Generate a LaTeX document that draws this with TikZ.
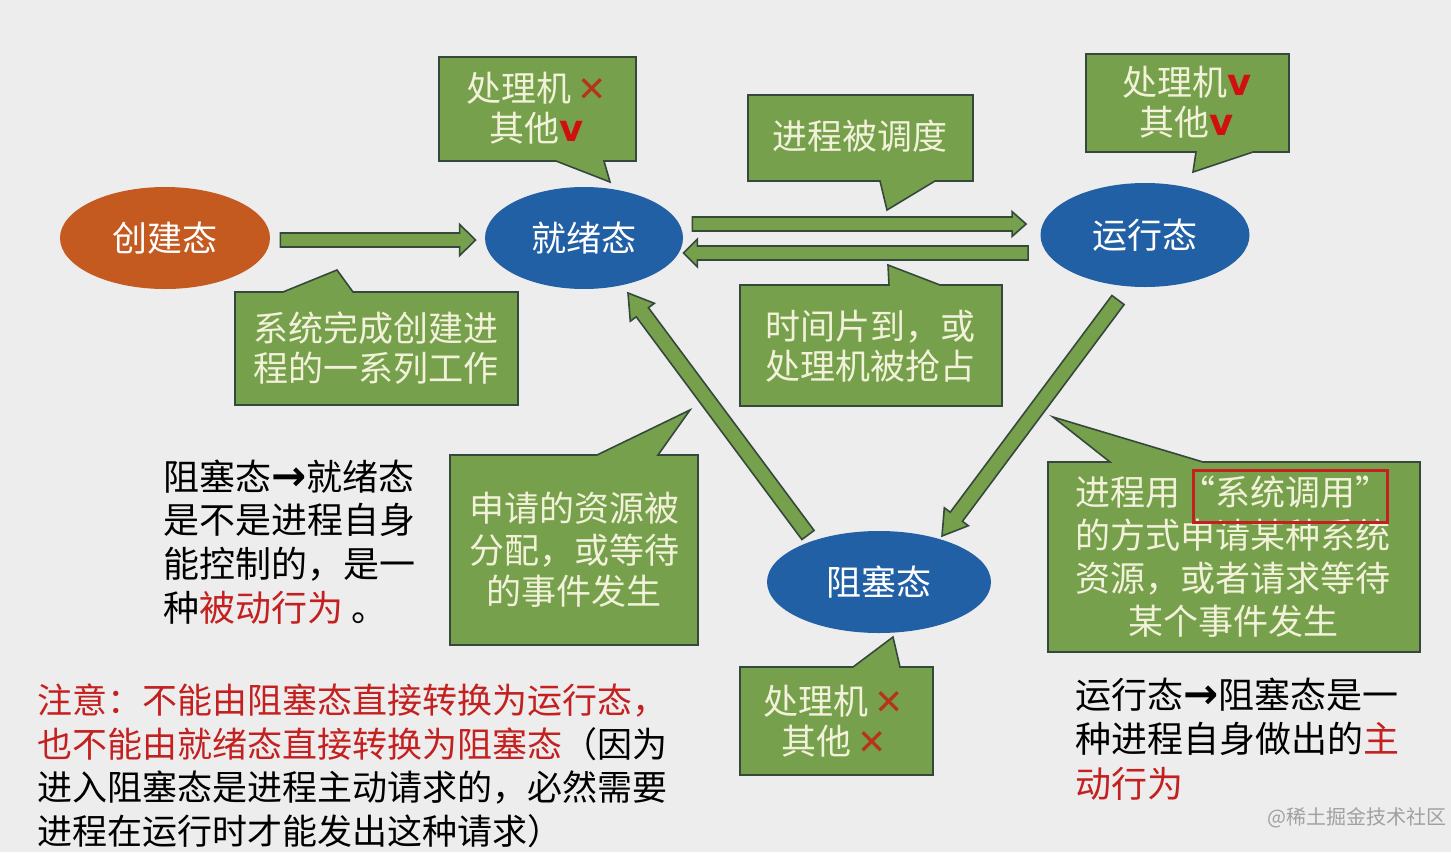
\documentclass[tikz,border=0pt]{standalone}
\usepackage{fontspec}
\setmainfont{Noto Sans CJK SC}
\newfontfamily\djv{DejaVu Sans}
\usetikzlibrary{calc,shapes.geometric}
\definecolor{bg}{HTML}{EDEDED}
\definecolor{boxgreen}{HTML}{77A04C}
\definecolor{boxline}{HTML}{34493C}
\definecolor{boxtxt}{HTML}{F2F2DA}
\definecolor{blueell}{HTML}{2260A6}
\definecolor{orangeell}{HTML}{C45A20}
\definecolor{xred}{HTML}{B5341A}
\definecolor{vred}{HTML}{D01010}
\definecolor{tred}{HTML}{C42020}
\definecolor{wm}{HTML}{A0A0A0}
\tikzset{
  state/.style={ellipse, inner sep=0pt, text=white, font=\fontsize{17.5pt}{20pt}\selectfont},
  callbox/.style={fill=boxgreen, draw=boxline, line width=0.8pt, line join=miter},
  boxtext/.style={text=boxtxt, font=\fontsize{17.5pt}{20pt}\selectfont, align=center, inner sep=0pt},
  plaintext/.style={text=black, font=\fontsize{18pt}{21.8pt}\selectfont, align=left, inner sep=0pt, anchor=west},
  blockarrow/.style={fill=boxgreen, draw=boxline, line width=0.8pt, line join=miter},
  redframe/.style={draw=tred, line width=1.5pt}
}
\newcommand{\xmark}{\,{\color{xred}\djv ✕}}
\newcommand{\vmark}{{\color{vred}\djv\bfseries\fontsize{18.5pt}{18.5pt}\selectfont v}}
\newcommand{\barrow}{{\djv\bfseries\fontsize{21pt}{21pt}\selectfont →}}
\newcommand{\blockarr}[5]{%
  \filldraw[blockarrow] let \p1=(#1), \p2=(#2), \n1={atan2(\y2-\y1,\x2-\x1)}, \n2={veclen(\x2-\x1,\y2-\y1)} in
  ($(\p1)+({\n1+90}:#3)$) -- ($(\p1)+({\n1}:{\n2-#5})+({\n1+90}:#3)$) -- ($(\p1)+({\n1}:{\n2-#5})+({\n1+90}:#4)$) -- (\p2)
  -- ($(\p1)+({\n1}:{\n2-#5})+({\n1-90}:#4)$) -- ($(\p1)+({\n1}:{\n2-#5})+({\n1-90}:#3)$) -- ($(\p1)+({\n1-90}:#3)$) -- cycle;}
\begin{document}
\begin{tikzpicture}[x=0.5pt,y=-0.5pt]
\fill[bg] (0,0) rectangle (1451,852);
\useasboundingbox (0,0) rectangle (1451,852);

% states
\node[state, fill=orangeell, minimum width=105pt, minimum height=51pt] (cj) at (165,238) {创建态};
\node[state, fill=blueell, minimum width=99pt, minimum height=51pt] (jx) at (584,238) {就绪态};
\node[state, fill=blueell, minimum width=104.5pt, minimum height=52pt] (yx) at (1145,235) {运行态};
\node[state, fill=blueell, minimum width=112pt, minimum height=51pt] (zs) at (879,582) {阻塞态};

% arrow end points
\coordinate (a1s) at ($(cj.east)+(10,2)$);
\coordinate (a1e) at ($(jx.west)+(-9,2)$);
\coordinate (a2s) at ($(jx.east)+(9,-14)$);
\coordinate (a2e) at ($(yx.west)+(-14,-11)$);
\coordinate (a3s) at ($(yx.west)+(-12,18)$);
\coordinate (a3e) at ($(jx.east)+(0,15)$);
\coordinate (a4s) at ($(zs)+(-71,-47)$);
\coordinate (a4e) at ($(jx)+(44,55)$);
\coordinate (a5s) at ($(yx)+(-27,65)$);
\coordinate (a5e) at ($(zs)+(63,-46)$);

\blockarr{a1s}{a1e}{3.5pt}{7.8pt}{8pt}
\blockarr{a2s}{a2e}{3.5pt}{6.2pt}{7pt}
\blockarr{a3s}{a3e}{3.5pt}{7pt}{7pt}
\blockarr{a4s}{a4e}{3.8pt}{7.5pt}{12pt}
\blockarr{a5s}{a5e}{3.8pt}{7.5pt}{12pt}

% callouts
\draw[callbox] (439,57) -- (636,57) -- (636,161) -- (604,161) -- (610,182) -- (556,161) -- (439,161) -- cycle;
\node[boxtext] (t1) at (537,108) {处理机\xmark\\其他\vmark};

\draw[callbox] (1086,54) -- (1289,54) -- (1289,152) -- (1253,152) -- (1193,172) -- (1196,152) -- (1086,152) -- cycle;
\node[boxtext] (t2) at (1187,102) {处理机\vmark\\其他\vmark};

\draw[callbox] (748,95) -- (973,95) -- (973,181) -- (935,181) -- (887,210) -- (880,181) -- (748,181) -- cycle;
\node[boxtext] (t3) at (860,136) {进程被调度};

\draw[callbox] (235,292) -- (283,292) -- (337,270) -- (353,292) -- (518,292) -- (518,405) -- (235,405) -- cycle;
\node[boxtext] (t4) at (376,348) {系统完成创建进\\程的一系列工作};

\draw[callbox] (740,285) -- (889,285) -- (888,265) -- (940,285) -- (1002,285) -- (1002,406) -- (740,406) -- cycle;
\node[boxtext] (t5) at (870,346) {时间片到，或\\处理机被抢占};

\draw[callbox] (450,455) -- (597,455) -- (690,410) -- (658,455) -- (698,455) -- (698,645) -- (450,645) -- cycle;
\node[boxtext, font=\fontsize{17.5pt}{20.8pt}\selectfont] (t6) at (574,550) {申请的资源被\\分配，或等待\\的事件发生};

\draw[callbox] (1048,462) -- (1110,462) -- (1053,417) -- (1203,462) -- (1420,462) -- (1420,652) -- (1048,652) -- cycle;
\node[boxtext, font=\fontsize{17.5pt}{21.5pt}\selectfont] (t7) at (1233,557) {进程用“系统调用”\\的方式申请某种系统\\资源，或者请求等待\\某个事件发生};
\draw[redframe] (1193,470) rectangle (1387,522);

\draw[callbox] (740,667) -- (853,667) -- (893,637) -- (900,667) -- (933,667) -- (933,775) -- (740,775) -- cycle;
\node[boxtext] (t8) at (834,721) {处理机\xmark\\其他\xmark};

% plain texts
\node[plaintext] (n1) at (163,542) {阻塞态\barrow 就绪态\\是不是进程自身\\能控制的，是一\\种{\color{tred}被动行为} 。};
\node[plaintext, font=\fontsize{17.5pt}{21.8pt}\selectfont] (n2) at (37,766) {{\color{tred}注意：不能由阻塞态直接转换为运行态，}\\{\color{tred}也不能由就绪态直接转换为阻塞态}（因为\\进入阻塞态是进程主动请求的，必然需要\\进程在运行时才能发出这种请求）};
\node[plaintext, font=\fontsize{18pt}{22.2pt}\selectfont] (n3) at (1075,739) {运行态\barrow 阻塞态是一\\种进程自身做出的{\color{tred}主}\\{\color{tred}动行为}};

\node[text=wm, font=\fontsize{10pt}{12pt}\selectfont, anchor=west, inner sep=0pt] (wmk) at (1267,818) {@稀土掘金技术社区};
\end{tikzpicture}
\end{document}
